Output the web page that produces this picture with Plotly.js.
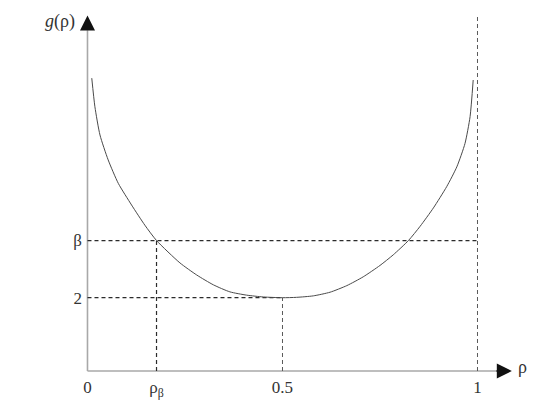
<!DOCTYPE html>
<html>
<head>
<meta charset="utf-8">
<script src="https://cdn.plot.ly/plotly-3.0.1.min.js"></script>
<style>
  html, body { margin: 0; padding: 0; background: #fff; }
  #chart { width: 545px; height: 403px; }
</style>
</head>
<body>
<div id="chart"></div>
<script>
// ========== Data ==========
// curve g(rho), U-shaped with minimum 2 at rho = 0.5
const rhoValues = [0.011, 0.019, 0.032, 0.053, 0.079, 0.113, 0.147, 0.177, 0.237, 0.28,
                   0.323, 0.365, 0.408, 0.451, 0.5, 0.536, 0.579, 0.622, 0.665, 0.707,
                   0.75, 0.784, 0.823, 0.853, 0.887, 0.921, 0.947, 0.968, 0.981, 0.989];
const gValues   = [7.99, 7.21, 6.44, 5.76, 5.12, 4.53, 3.98, 3.56, 2.95, 2.62,
                   2.35, 2.16, 2.07, 2.02, 2.00, 2.01, 2.05, 2.15, 2.33, 2.57,
                   2.88, 3.17, 3.56, 3.95, 4.45, 5.03, 5.57, 6.21, 6.94, 7.94];

// guide levels
const rhoBeta = 0.177;
const betaLevel = 3.56;
const rhoMin = 0.5;
const gMin = 2;
const rhoOne = 1;
const topLevel = 9.69;

// axis ends (arrow tips)
const xAxisEnd = 1.088;
const yAxisEnd = 9.70;

// tick labels
const xTickVals = [0, rhoBeta, 0.5, 1];
const xTickText = ['0', 'ρ<sub>β</sub>', '0.5', '1'];
const yTickVals = [gMin, betaLevel];
const yTickText = ['2', 'β'];

// ========== Traces ==========
const darkDash = { color: '#2b2b2b', width: 1.2, dash: '4px,3px' };
const greyDash = { color: '#5a5a5a', width: 1, dash: '4px,3px' };
const axisLine = { color: '#a8a8a8', width: 1.6 };

const traces = [
  // axes
  { x: [0, xAxisEnd - 0.04], y: [0, 0], mode: 'lines', line: axisLine },
  { x: [0, 0], y: [0, yAxisEnd - 0.4], mode: 'lines', line: axisLine },
  // guides
  { x: [0, rhoOne], y: [betaLevel, betaLevel], mode: 'lines', line: darkDash },
  { x: [rhoBeta, rhoBeta], y: [0, betaLevel], mode: 'lines', line: darkDash },
  { x: [0, rhoMin], y: [gMin, gMin], mode: 'lines', line: darkDash },
  { x: [rhoMin, rhoMin], y: [0, gMin], mode: 'lines', line: greyDash },
  { x: [rhoOne, rhoOne], y: [0, topLevel], mode: 'lines', line: greyDash },
  // curve
  {
    x: rhoValues, y: gValues, mode: 'lines',
    line: { color: '#4a4a4a', width: 1, shape: 'spline', smoothing: 0.6 }
  }
];

const serif = '"Liberation Serif", "DejaVu Serif", serif';

const layout = {
  width: 545,
  height: 403,
  margin: { l: 83, r: 0, t: 0, b: 28 },
  paper_bgcolor: '#fff',
  plot_bgcolor: '#fff',
  showlegend: false,
  font: { family: serif, size: 17, color: '#333' },
  xaxis: {
    range: [-0.0115, 1.1731],
    showgrid: false, zeroline: false, showline: false, ticks: '',
    tickvals: xTickVals, ticktext: xTickText,
    tickfont: { family: serif, size: 17, color: '#333' }
  },
  yaxis: {
    range: [-0.109, 10.123],
    showgrid: false, zeroline: false, showline: false, ticks: '',
    tickvals: yTickVals, ticktext: yTickText,
    tickfont: { family: serif, size: 17, color: '#333' }
  },
  annotations: [
    // arrow heads
    {
      x: xAxisEnd, y: 0, xref: 'x', yref: 'y', ax: -17, ay: 0, text: '',
      showarrow: true, arrowhead: 2, arrowsize: 2, arrowwidth: 1.5, arrowcolor: '#111'
    },
    {
      x: 0, y: yAxisEnd, xref: 'x', yref: 'y', ax: 0, ay: 16, text: '',
      showarrow: true, arrowhead: 2, arrowsize: 2, arrowwidth: 1.5, arrowcolor: '#111'
    },
    // axis titles
    {
      x: -0.013, y: 0.943, xref: 'paper', yref: 'paper', xanchor: 'right', yanchor: 'middle',
      text: '<i>g</i>(ρ)', showarrow: false, font: { family: serif, size: 18, color: '#333' }
    },
    {
      x: 1.099, y: 0.1, xref: 'x', yref: 'y', xanchor: 'left', yanchor: 'middle',
      text: 'ρ', showarrow: false, font: { family: serif, size: 18, color: '#333' }
    }
  ]
};

Plotly.newPlot('chart', traces, layout, { displayModeBar: false, staticPlot: true });
</script>
</body>
</html>
